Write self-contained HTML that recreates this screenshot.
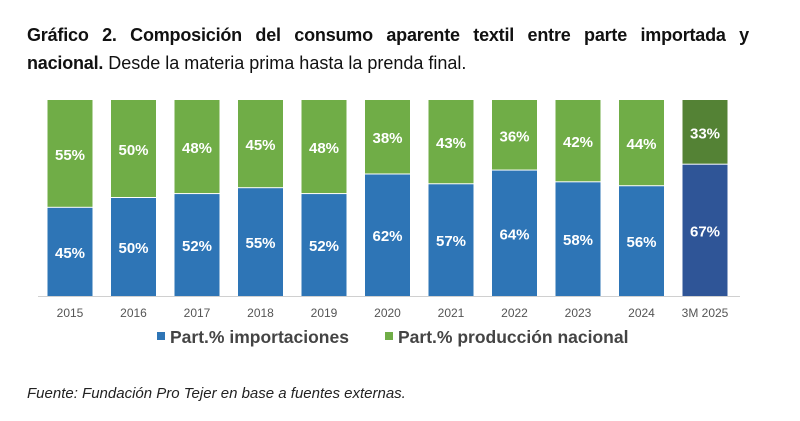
<!DOCTYPE html>
<html><head><meta charset="utf-8"><style>
body{margin:0;width:800px;height:421px;background:#fff;font-family:"Liberation Sans",sans-serif;overflow:hidden;position:relative}
.t{position:absolute;left:27px;top:21px;width:722px;font-size:18px;line-height:28px;color:#111}
.l1{display:block;text-align:justify;text-align-last:justify;font-weight:bold;letter-spacing:-0.2px}
.src{position:absolute;left:27px;top:385px;font-size:15px;font-style:italic;color:#222}
</style></head><body>
<div class="t"><span class="l1">Gráfico 2. Composición del consumo aparente textil entre parte importada y</span><b style="letter-spacing:-0.2px">nacional.</b> Desde la materia prima hasta la prenda final.</div>
<svg id="c" width="800" height="421" style="position:absolute;left:0;top:0"></svg>
<div class="src">Fuente: Fundación Pro Tejer en base a fuentes externas.</div>
<script>
const categories=["2015","2016","2017","2018","2019","2020","2021","2022","2023","2024","3M 2025"];
const imports=[45,50,52,55,52,62,57,64,58,56,67];
const national=[55,50,48,45,48,38,43,36,42,44,33];
const NS="http://www.w3.org/2000/svg";
const svg=document.getElementById('c');
const x0=47.5,step=63.5,bw=45,yB=296,H=196;
function xs(i){return x0+i*step;}
function ys(v){return yB-v/100*H;}
function mk(t,a){const e=document.createElementNS(NS,t);for(const k in a)e.setAttribute(k,a[k]);svg.appendChild(e);return e;}
const ax=mk('line',{x1:38,x2:740,y1:yB+0.5,y2:yB+0.5,stroke:'#d0d0d0','stroke-width':1});


categories.forEach((c,i)=>{
 const last=i===categories.length-1;
 const bc=last?'#2f5597':'#2e75b6', gc=last?'#548235':'#70ad47';
 const tot=imports[i]+national[i];
 const yi=ys(imports[i]/tot*100);
 const b=mk('rect',{x:xs(i),y:yi,width:bw,height:yB-yi,fill:bc});
 
 
 const g=mk('rect',{x:xs(i),y:ys(100),width:bw,height:yi-ys(100)-1,fill:gc});
 
 
 const l1=mk('text',{x:xs(i)+bw/2,y:(yi+yB)/2+6,'text-anchor':'middle',fill:'#fff','font-size':15,'font-weight':'bold'});
 l1.textContent=imports[i]+'%';
 
 
 const l2=mk('text',{x:xs(i)+bw/2,y:(yi+ys(100))/2+6,'text-anchor':'middle',fill:'#fff','font-size':15,'font-weight':'bold'});
 l2.textContent=national[i]+'%';
 
 
 const t=mk('text',{x:xs(i)+bw/2,y:317,'text-anchor':'middle',fill:'#555','font-size':12});
 t.textContent=c;
 
 
});
const lg=[["Part.% importaciones","#2e75b6",157],["Part.% producción nacional","#70ad47",385]];
lg.forEach(([n,col,x])=>{
 const r=mk('rect',{x:x,y:332,width:8,height:8,fill:col});
 
 
 const t=mk('text',{x:x+13,y:343,fill:'#444','font-size':17.5,'font-weight':'bold'});
 t.textContent=n;
 
 
});
</script>
</body></html>
